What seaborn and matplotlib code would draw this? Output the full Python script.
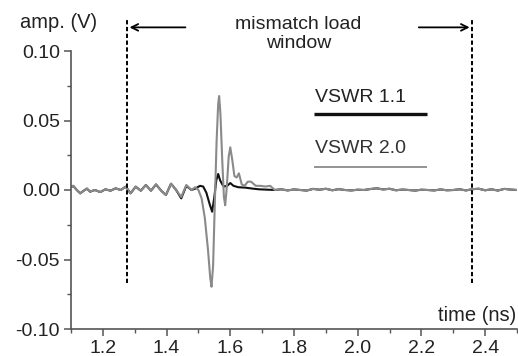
import numpy as np
import pandas as pd
import seaborn as sns
import matplotlib.pyplot as plt
from matplotlib.ticker import MultipleLocator

# forma de onda (tiempo en ns, amplitud en V)
t_pre = [1.100, 1.107, 1.118, 1.129, 1.140, 1.150, 1.160, 1.175, 1.192, 1.208,
         1.224, 1.240, 1.256, 1.272, 1.287, 1.303, 1.319, 1.335, 1.351, 1.367,
         1.383, 1.398, 1.414, 1.430]
amp_pre = [0.002, 0.003, 0.0, -0.0024, -0.0005, 0.001, -0.0012, 0.0, -0.0015, 0.0005,
           -0.0005, 0.0012, 0.0, 0.0024, -0.0024, 0.0024, -0.0005, 0.0036, -0.0005, 0.004,
           -0.0005, -0.0036, 0.0045, 0.0]

t_v11 = [1.446, 1.462, 1.478, 1.490, 1.505, 1.515, 1.525, 1.535, 1.543, 1.550,
         1.556, 1.562, 1.568, 1.575, 1.580, 1.590, 1.600, 1.610, 1.625, 1.647,
         1.670, 1.690, 1.720, 1.740]
amp_v11 = [-0.006, 0.003, 0.0, 0.001, 0.003, 0.0025, -0.002, -0.010, -0.0156, -0.005,
           0.007, 0.0115, 0.007, 0.004, 0.0025, 0.003, 0.005, 0.003, 0.002, 0.0017,
           0.001, 0.0005, 0.0002, 0.0]

t_v20 = [1.446, 1.462, 1.478, 1.490, 1.500, 1.510, 1.520, 1.530, 1.537, 1.541,
         1.546, 1.552, 1.557, 1.562, 1.565, 1.569, 1.575, 1.580, 1.584, 1.589,
         1.595, 1.600, 1.606, 1.613, 1.620, 1.627, 1.636, 1.645, 1.655, 1.665,
         1.680, 1.695, 1.710, 1.725, 1.740]
amp_v20 = [-0.005, 0.0036, 0.0, 0.002, 0.0, -0.006, -0.020, -0.043, -0.063, -0.0696,
           -0.055, -0.005, 0.035, 0.062, 0.0676, 0.055, 0.020, -0.005, -0.011, 0.002,
           0.024, 0.0307, 0.022, 0.010, 0.009, 0.012, 0.004, 0.003, 0.006, 0.006,
           0.003, 0.003, 0.0025, 0.003, 0.0]

t_tail = [1.76, 1.78, 1.80, 1.82, 1.84, 1.86, 1.88, 1.90, 1.92, 1.94, 1.96, 1.98, 2.00,
          2.02, 2.04, 2.06, 2.08, 2.10, 2.12, 2.14, 2.16, 2.18, 2.20, 2.22, 2.24, 2.26,
          2.28, 2.30, 2.32, 2.34, 2.36, 2.38, 2.40, 2.42, 2.44, 2.46, 2.48, 2.50]
amp_tail = [0.0005, -0.0003, 0.0004, 0.0, -0.0004, 0.0008, 0.0002, 0.0009, -0.0002, 0.0006,
            0.0, -0.0003, 0.0002, 0.0, 0.0007, 0.0012, 0.0004, 0.0009, -0.0002, 0.0003,
            0.0, -0.0004, 0.0002, 0.0, -0.0003, 0.0004, -0.0002, 0.0, 0.0005, -0.0003,
            0.0006, 0.0009, -0.0002, 0.0005, -0.0004, 0.0008, 0.0003, 0.0]

series = ["VSWR 1.1", "VSWR 2.0"]
colores = ["#111111", "#8a8a8a"]
ventana = [1.275, 2.36]   # limites de la ventana de carga

#armar el dataframe
df = pd.concat([
    pd.DataFrame({"t": t_pre + t_v11 + t_tail, "amp": amp_pre + amp_v11 + amp_tail, "serie": series[0]}),
    pd.DataFrame({"t": t_pre + t_v20 + t_tail, "amp": amp_pre + amp_v20 + amp_tail, "serie": series[1]}),
])

sns.set_theme(style="ticks")
plt.rcParams['font.family'] = ['Liberation Sans', 'DejaVu Sans']

fig = plt.figure(figsize=(5.18, 3.56), dpi=100)
ax = fig.add_axes([71/518, 1 - 329/356, 446/518, (329 - 9.3)/356])

# negro primero, gris encima (como en la figura original)
sns.lineplot(data=df[df.serie == series[0]], x="t", y="amp", color=colores[0], lw=1.5,
             estimator=None, ax=ax, legend=False)
sns.lineplot(data=df[df.serie == series[1]], x="t", y="amp", color=colores[1], lw=1.5,
             estimator=None, ax=ax, legend=False)

ax.set_xlim(1.1, 2.5)
ax.set_ylim(-0.10, 0.13)
ax.set_xlabel("")
ax.set_ylabel("")
ax.set_xticks([1.2, 1.4, 1.6, 1.8, 2.0, 2.2, 2.4])
ax.set_xticklabels(["1.2", "1.4", "1.6", "1.8", "2.0", "2.2", "2.4"])
ax.xaxis.set_minor_locator(MultipleLocator(0.1))
ax.set_yticks([-0.10, -0.05, 0.00, 0.05, 0.10])
ax.set_yticklabels(["-0.10", "-0.05", "0.00", "0.05", "0.10"])
ax.yaxis.set_minor_locator(plt.FixedLocator([-0.075, -0.025, 0.025, 0.075]))

for lado in ["top", "right"]:
    ax.spines[lado].set_visible(False)
for lado in ["left", "bottom"]:
    ax.spines[lado].set_color("#555555")
    ax.spines[lado].set_linewidth(1.2)
ax.spines["left"].set_bounds(-0.10, 0.10)
ax.tick_params(which="major", length=5, width=1.1, color="#555555", labelsize=14,
               labelcolor="#222222", pad=3)
ax.tick_params(which="minor", length=3, width=1.0, color="#555555")

# ventana de desajuste
ax.vlines(ventana, -0.067, 0.124, colors="black", linestyles=(0, (2.2, 1.3)), lw=1.4,
          clip_on=False)
ax.annotate("", xy=(ventana[0], 0.117), xytext=(1.468, 0.117),
            arrowprops=dict(arrowstyle="->", color="black", lw=1.3))
ax.annotate("", xy=(ventana[1], 0.117), xytext=(2.183, 0.117),
            arrowprops=dict(arrowstyle="->", color="black", lw=1.3))
ax.text(1.814, 0.112, "mismatch load\nwindow", ha="center", va="center", fontsize=14,
        color="#222222", linespacing=1.15)

# leyenda manual: texto arriba, linea abajo
ax.text(1.865, 0.0669, series[0], ha="left", va="center", fontsize=14, color="#222222")
ax.plot([1.862, 2.217], [0.0547, 0.0547], color=colores[0], lw=2.4, solid_capstyle="butt")
ax.text(1.865, 0.0302, series[1], ha="left", va="center", fontsize=14, color="#333333")
ax.plot([1.862, 2.217], [0.0165, 0.0165], color=colores[1], lw=1.3, solid_capstyle="butt")

ax.text(2.497, -0.0906, "time (ns)", ha="right", va="center", fontsize=14.5, color="#222222")
fig.text(20/518, 1 - 23/356, "amp. (V)", ha="left", va="center", fontsize=14.5, color="#222222")

plt.savefig("out.png", dpi=100)
